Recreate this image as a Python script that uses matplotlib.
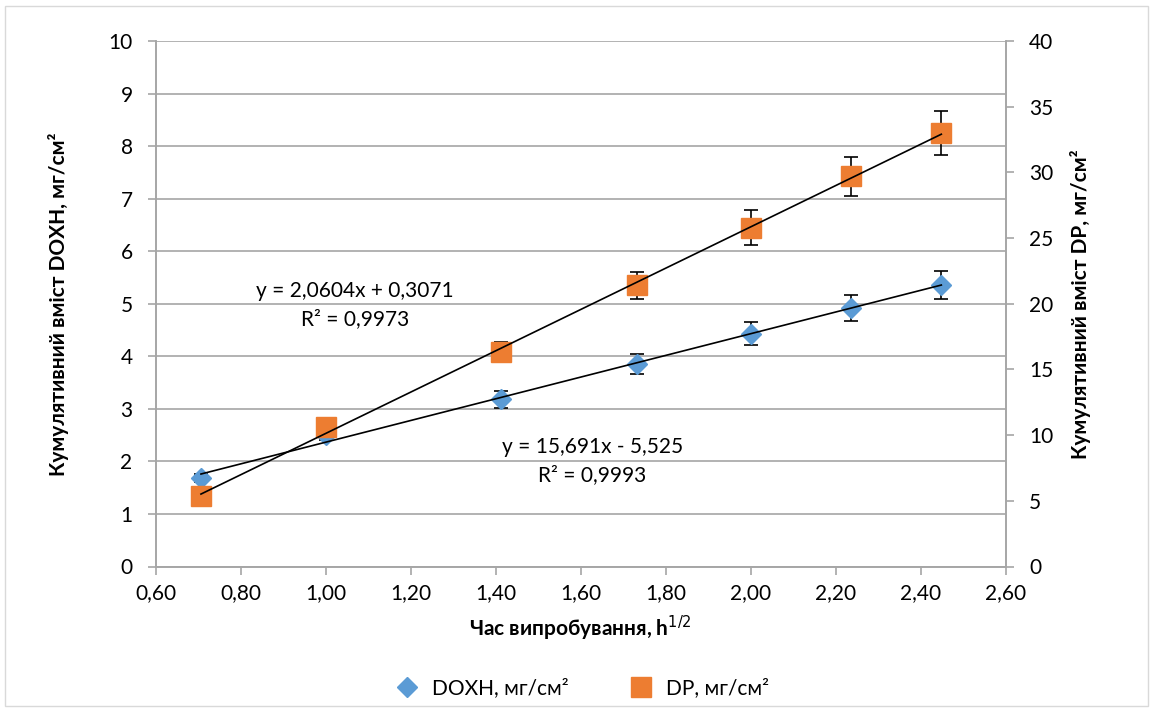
import numpy as np
import matplotlib
matplotlib.use("Agg")
import matplotlib.pyplot as plt
from matplotlib.patches import Rectangle
from matplotlib.lines import Line2D
from matplotlib.ticker import FuncFormatter

plt.rcParams['font.family'] = ['Lato', 'DejaVu Sans']

x = [0.707, 1.000, 1.414, 1.732, 2.000, 2.236, 2.449]
doxh = [1.68, 2.50, 3.18, 3.85, 4.43, 4.92, 5.36]
doxh_err = [0.08, 0.10, 0.16, 0.19, 0.22, 0.24, 0.27]
dp = [5.4, 10.6, 16.3, 21.4, 25.8, 29.7, 33.0]
dp_err = [0.2, 0.4, 0.76, 1.05, 1.3, 1.5, 1.65]

xticks = [0.6, 0.8, 1.0, 1.2, 1.4, 1.6, 1.8, 2.0, 2.2, 2.4, 2.6]

blue = '#5B9BD5'
orange = '#ED7D31'
grid = '#A6A6A6'

fig = plt.figure(figsize=(11.55, 7.11), dpi=100)
W, H = 1155, 711
L, R, T, B = 155.5, 1005.5, 41, 566.5
ax = fig.add_axes([L / W, 1 - B / H, (R - L) / W, (B - T) / H])
ax2 = ax.twinx()

fig.patches.append(Rectangle((5 / W, 5 / H), 1143 / W, 700 / H, transform=fig.transFigure,
                             fill=False, edgecolor='#D9D9D9', linewidth=1))

ax.set_xlim(0.6, 2.6)
ax.set_ylim(0, 10)
ax2.set_ylim(0, 40)
ax.set_xticks(xticks)
ax.set_yticks(range(0, 11))
ax2.set_yticks(range(0, 41, 5))
ax.xaxis.set_major_formatter(FuncFormatter(lambda v, p: f"{v:.2f}".replace('.', ',')))

ax.grid(axis='y', color=grid, linewidth=1.2)
ax.set_axisbelow(True)
for a in (ax, ax2):
    for s in ['top']:
        a.spines[s].set_visible(False)
    for s in ['left', 'right', 'bottom']:
        a.spines[s].set_color(grid)
        a.spines[s].set_linewidth(1.2)
    a.tick_params(colors=grid, labelcolor='black', labelsize=15, length=6, width=1.2)
ax.tick_params(axis='x', pad=6)
ax.tick_params(axis='y', pad=10.5)
ax2.tick_params(axis='y', pad=11)

# error bars and markers
ax.errorbar(x, doxh, yerr=doxh_err, fmt='none', ecolor='black', elinewidth=1.2, capsize=5, capthick=1.2, zorder=3)
ax.plot(x, doxh, linestyle='none', marker='D', markersize=10, color=blue, zorder=4)
ax2.errorbar(x, dp, yerr=dp_err, fmt='none', ecolor='black', elinewidth=1.2, capsize=5, capthick=1.2, zorder=3)
ax2.plot(x, dp, linestyle='none', marker='s', markersize=15, color=orange, zorder=4)

# trendlines
xa = np.array([x[0], x[-1]])
k1, b1 = np.polyfit(x, doxh, 1)
ax.plot(xa, k1 * xa + b1, color='black', linewidth=1.2, zorder=5)
k2, b2 = np.polyfit(x, dp, 1)
ax2.plot(xa, k2 * xa + b2, color='black', linewidth=1.2, zorder=5)

ax.text(0.235, 0.497, "y = 2,0604x + 0,3071\nR² = 0,9973", transform=ax.transAxes,
        ha='center', va='center', fontsize=15, linespacing=1.5, zorder=6)
ax.text(0.514, 0.20, "y = 15,691x - 5,525\nR² = 0,9993", transform=ax.transAxes,
        ha='center', va='center', fontsize=15, linespacing=1.5, zorder=6)

ax.set_xlabel("Час випробування, h$^{1/2}$", fontsize=15, fontweight='bold', labelpad=8)
ax.set_ylabel("Кумулятивний вміст DOXH, мг/см²", fontsize=15, fontweight='bold', labelpad=28)
ax2.set_ylabel("Кумулятивний вміст DP, мг/см²", fontsize=15, fontweight='bold', labelpad=12)

handles = [Line2D([], [], linestyle='none', marker='D', markersize=10, color=blue),
           Line2D([], [], linestyle='none', marker='s', markersize=14, color=orange)]
fig.legend(handles, ["DOXH, мг/см²", "DP, мг/см²"], loc='center', bbox_to_anchor=(0.5, 1 - 688 / H),
           ncol=2, frameon=False, fontsize=15, handletextpad=0.2, columnspacing=2.5)

fig.savefig("out.png", dpi=100)
